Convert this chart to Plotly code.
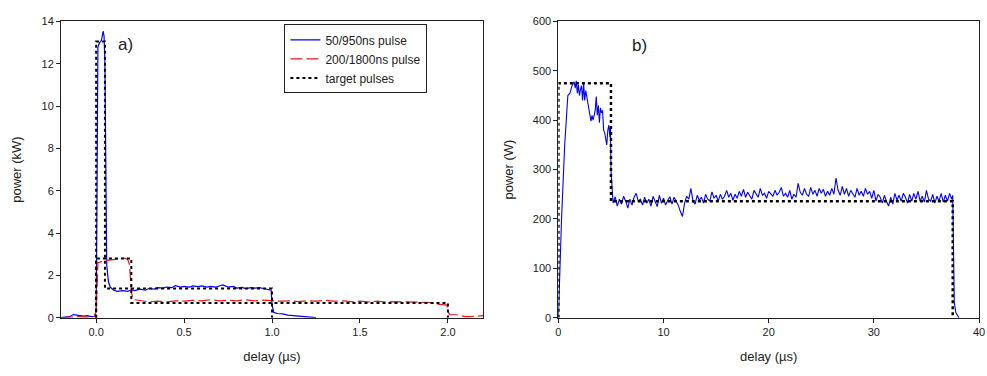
import plotly.graph_objects as go

# ---------- panel a) ----------
a_blue_x = [-0.2, -0.18, -0.15, -0.13, -0.11, -0.09, -0.07, -0.05, -0.03, -0.01, 0.0, 0.005, 0.01, 0.02, 0.03,
            0.04, 0.045, 0.05, 0.055, 0.06, 0.07, 0.08, 0.1, 0.12, 0.15, 0.18, 0.2, 0.22, 0.25, 0.28, 0.3,
            0.33, 0.35, 0.38, 0.4, 0.43, 0.45, 0.48, 0.5, 0.53, 0.55, 0.58, 0.6, 0.63, 0.65, 0.68, 0.7,
            0.72, 0.75, 0.78, 0.8, 0.83, 0.85, 0.88, 0.9, 0.93, 0.95, 0.98, 0.995, 1.0, 1.01, 1.03, 1.06,
            1.09, 1.12, 1.15, 1.2, 1.25]
a_blue_y = [0.0, 0.02, 0.05, 0.15, 0.12, 0.1, 0.08, 0.1, 0.05, 0.06, 0.3, 6.0, 12.8, 13.0, 13.1,
            13.55, 13.3, 12.0, 6.0, 2.5, 1.7, 1.45, 1.3, 1.25, 1.28, 1.25, 1.32, 1.28, 1.35, 1.3, 1.38,
            1.35, 1.42, 1.4, 1.45, 1.42, 1.52, 1.45, 1.48, 1.45, 1.5, 1.47, 1.5, 1.45, 1.48, 1.45, 1.5,
            1.55, 1.45, 1.48, 1.4, 1.43, 1.38, 1.42, 1.4, 1.42, 1.38, 1.32, 1.3, 0.6, 0.25, 0.2, 0.18,
            0.12, 0.1, 0.05, 0.02, 0.0]

a_red_x = [-0.2, -0.15, -0.1, -0.05, -0.01, 0.0, 0.005, 0.01, 0.03, 0.05, 0.07, 0.1, 0.12, 0.14, 0.16,
           0.18, 0.19, 0.2, 0.21, 0.22, 0.25, 0.3, 0.35, 0.4, 0.45, 0.5, 0.55, 0.6, 0.65, 0.7, 0.75, 0.8,
           0.85, 0.9, 0.95, 1.0, 1.05, 1.1, 1.15, 1.2, 1.25, 1.3, 1.35, 1.4, 1.45, 1.5, 1.55, 1.6, 1.65,
           1.7, 1.75, 1.8, 1.85, 1.9, 1.93, 1.97, 1.995, 2.0, 2.01, 2.05, 2.08, 2.1, 2.13, 2.16, 2.2]
a_red_y = [0.0, 0.02, 0.05, 0.03, 0.05, 0.3, 2.3, 2.6, 2.65, 2.7, 2.72, 2.75, 2.78, 2.8, 2.82,
           2.75, 2.5, 1.2, 0.9, 0.85, 0.8, 0.75, 0.78, 0.75, 0.8, 0.78, 0.82, 0.8, 0.85, 0.8, 0.83, 0.8,
           0.85, 0.8, 0.83, 0.8, 0.78, 0.8, 0.76, 0.8, 0.78, 0.82, 0.78, 0.8, 0.76, 0.78, 0.75, 0.78, 0.74,
           0.76, 0.75, 0.77, 0.73, 0.72, 0.65, 0.62, 0.6, 0.3, 0.15, 0.14, 0.1, 0.05, 0.05, 0.08, 0.1]

a_target_x = [0, 0, 0.05, 0.05, 1.0, 1.0, None, 0, 0, 0.2, 0.2, 2.0, 2.0]
a_target_y = [0, 13.05, 13.05, 1.38, 1.38, 0, None, 0, 2.8, 2.8, 0.7, 0.7, 0]

# ---------- panel b) ----------
b_rise_x = [0.0, 0.1, 0.3, 0.6, 0.9, 1.1, 1.3, 1.5, 1.6, 1.7, 1.8, 1.9, 2.0, 2.1, 2.2, 2.3, 2.4, 2.5,
            2.6, 2.7, 2.8, 2.9, 3.0, 3.1, 3.2, 3.3, 3.4, 3.5, 3.6, 3.7, 3.8, 3.9, 4.0, 4.1, 4.2, 4.3,
            4.4, 4.5, 4.6, 4.7, 4.8, 4.9, 4.95]
b_rise_y = [0, 70, 200, 350, 450, 455, 470, 478, 465, 480, 455, 472, 450, 462, 470, 440, 475, 440,
            460, 448, 435, 420, 405, 398, 410, 400, 410, 420, 448, 410, 430, 395, 425, 415, 420, 380,
            375, 360, 350, 380, 390, 365, 385]

b_plateau_x = [5.0, 5.2, 5.4, 5.6, 5.8, 6.0, 6.2, 6.4, 6.6, 6.8,
               7.0, 7.2, 7.4, 7.6, 7.8, 8.0, 8.2, 8.4, 8.6, 8.8,
               9.0, 9.2, 9.4, 9.6, 9.8, 10.0, 10.2, 10.4, 10.6, 10.8,
               11.0, 11.2, 11.4, 11.6, 11.8, 12.0, 12.2, 12.4, 12.6, 12.8,
               13.0, 13.2, 13.4, 13.6, 13.8, 14.0, 14.2, 14.4, 14.6, 14.8,
               15.0, 15.2, 15.4, 15.6, 15.8, 16.0, 16.2, 16.4, 16.6, 16.8,
               17.0, 17.2, 17.4, 17.6, 17.8, 18.0, 18.2, 18.4, 18.6, 18.8,
               19.0, 19.2, 19.4, 19.6, 19.8, 20.0, 20.2, 20.4, 20.6, 20.8,
               21.0, 21.2, 21.4, 21.6, 21.8, 22.0, 22.2, 22.4, 22.6, 22.8,
               23.0, 23.2, 23.4, 23.6, 23.8, 24.0, 24.2, 24.4, 24.6, 24.8,
               25.0, 25.2, 25.4, 25.6, 25.8, 26.0, 26.2, 26.4, 26.6, 26.8,
               27.0, 27.2, 27.4, 27.6, 27.8, 28.0, 28.2, 28.4, 28.6, 28.8,
               29.0, 29.2, 29.4, 29.6, 29.8, 30.0, 30.2, 30.4, 30.6, 30.8,
               31.0, 31.2, 31.4, 31.6, 31.8, 32.0, 32.2, 32.4, 32.6, 32.8,
               33.0, 33.2, 33.4, 33.6, 33.8, 34.0, 34.2, 34.4, 34.6, 34.8,
               35.0, 35.2, 35.4, 35.6, 35.8, 36.0, 36.2, 36.4, 36.6, 36.8,
               37.0, 37.2, 37.4, 37.5, 37.55, 37.65, 37.8, 38.1]
b_plateau_y = [300, 232, 245, 226, 240, 230, 246, 236, 222, 240,
               228, 244, 252, 236, 240, 228, 244, 232, 240, 226,
               246, 234, 225, 248, 232, 242, 228, 238, 245, 230,
               244, 236, 228, 215, 205, 232, 246, 240, 262, 236,
               230, 248, 238, 244, 232, 250, 240, 236, 255, 242,
               248, 236, 250, 240, 246, 258, 244, 252, 238, 250,
               242, 256, 246, 260, 244, 254, 248, 240, 258, 250,
               244, 262, 248, 252, 242, 256, 250, 246, 258, 248,
               254, 264, 246, 252, 244, 258, 240, 250, 244, 272,
               254, 248, 262, 250, 246, 264, 250, 258, 246, 262,
               252, 260, 246, 256, 248, 262, 250, 283, 258, 248,
               266, 250, 262, 246, 258, 252, 244, 262, 248, 256,
               246, 262, 250, 256, 242, 258, 236, 250, 244, 232,
               248, 236, 226, 244, 230, 252, 238, 248, 236, 252,
               244, 232, 250, 236, 252, 240, 256, 236, 246, 234,
               258, 240, 236, 250, 232, 246, 236, 252, 234, 248,
               236, 252, 240, 248, 150, 30, 10, 0]

b_target_x = [0, 0, 5.0, 5.0, 37.5, 37.5]
b_target_y = [0, 475, 475, 236, 236, 0]

a_yticks = [0, 2, 4, 6, 8, 10, 12, 14]
a_xticks = [0.0, 0.5, 1.0, 1.5, 2.0]
b_yticks = [0, 100, 200, 300, 400, 500, 600]
b_xticks = [0, 10, 20, 30, 40]

BLUE = "#0000ff"
RED = "#e8191c"
FONT = "Liberation Sans, Arial, sans-serif"

fig = go.Figure()
fig.add_trace(go.Scatter(x=a_blue_x, y=a_blue_y, mode="lines", name="50/950ns pulse",
                         line=dict(color=BLUE, width=1.2), xaxis="x", yaxis="y"))
fig.add_trace(go.Scatter(x=a_red_x, y=a_red_y, mode="lines", name="200/1800ns pulse",
                         line=dict(color=RED, width=1.2, dash="12px,4px"), xaxis="x", yaxis="y"))
fig.add_trace(go.Scatter(x=a_target_x, y=a_target_y, mode="lines", name="target pulses",
                         line=dict(color="black", width=2, dash="dot"), xaxis="x", yaxis="y"))
fig.add_trace(go.Scatter(x=b_rise_x + b_plateau_x, y=b_rise_y + b_plateau_y, mode="lines", showlegend=False,
                         line=dict(color=BLUE, width=1.1), xaxis="x2", yaxis="y2"))
fig.add_trace(go.Scatter(x=b_target_x, y=b_target_y, mode="lines", showlegend=False,
                         line=dict(color="black", width=2.5, dash="dot"), xaxis="x2", yaxis="y2"))

W, H = 987, 376
axis_common = dict(showline=True, linecolor="#222", linewidth=1, mirror=True, ticks="outside",
                   ticklen=4, tickcolor="#222", showgrid=False, zeroline=False,
                   tickfont=dict(family=FONT, size=11, color="#222"),
                   title_font=dict(family=FONT, size=13, color="#222"))

fig.update_layout(
    width=W, height=H, margin=dict(l=0, r=0, t=0, b=0),
    paper_bgcolor="white", plot_bgcolor="white",
    font=dict(family=FONT, color="#222"),
    xaxis=dict(domain=[58.5 / W, 484.5 / W], range=[-0.2, 2.2], tickvals=a_xticks,
               tickformat=".1f", title=dict(text="delay (µs)", standoff=14), anchor="y", **axis_common),
    yaxis=dict(domain=[54 / H, 360 / H], range=[0, 14], tickvals=a_yticks,
               title=dict(text="power (kW)", standoff=16), anchor="x", **axis_common),
    xaxis2=dict(domain=[560.5 / W, 985 / W], range=[0, 40], tickvals=b_xticks, ticklabeloverflow="allow",
                title=dict(text="delay (µs)", standoff=14), anchor="y2", **axis_common),
    yaxis2=dict(domain=[54 / H, 360 / H], range=[0, 600], tickvals=b_yticks,
                title=dict(text="power (W)", standoff=16), anchor="x2", **axis_common),
    legend=dict(x=284 / W, y=(H - 19) / H, xanchor="left", yanchor="top",
                bordercolor="#222", borderwidth=1, bgcolor="white", entrywidth=150,
                font=dict(family=FONT, size=12, color="#222"), tracegroupgap=0),
    annotations=[
        dict(text="a)", x=0.165, y=12.9, xref="x", yref="y", showarrow=False,
             font=dict(family=FONT, size=17, color="#222")),
        dict(text="b)", x=7.7, y=552, xref="x2", yref="y2", showarrow=False,
             font=dict(family=FONT, size=17, color="#222")),
    ],
)

fig.write_html("out.html")
